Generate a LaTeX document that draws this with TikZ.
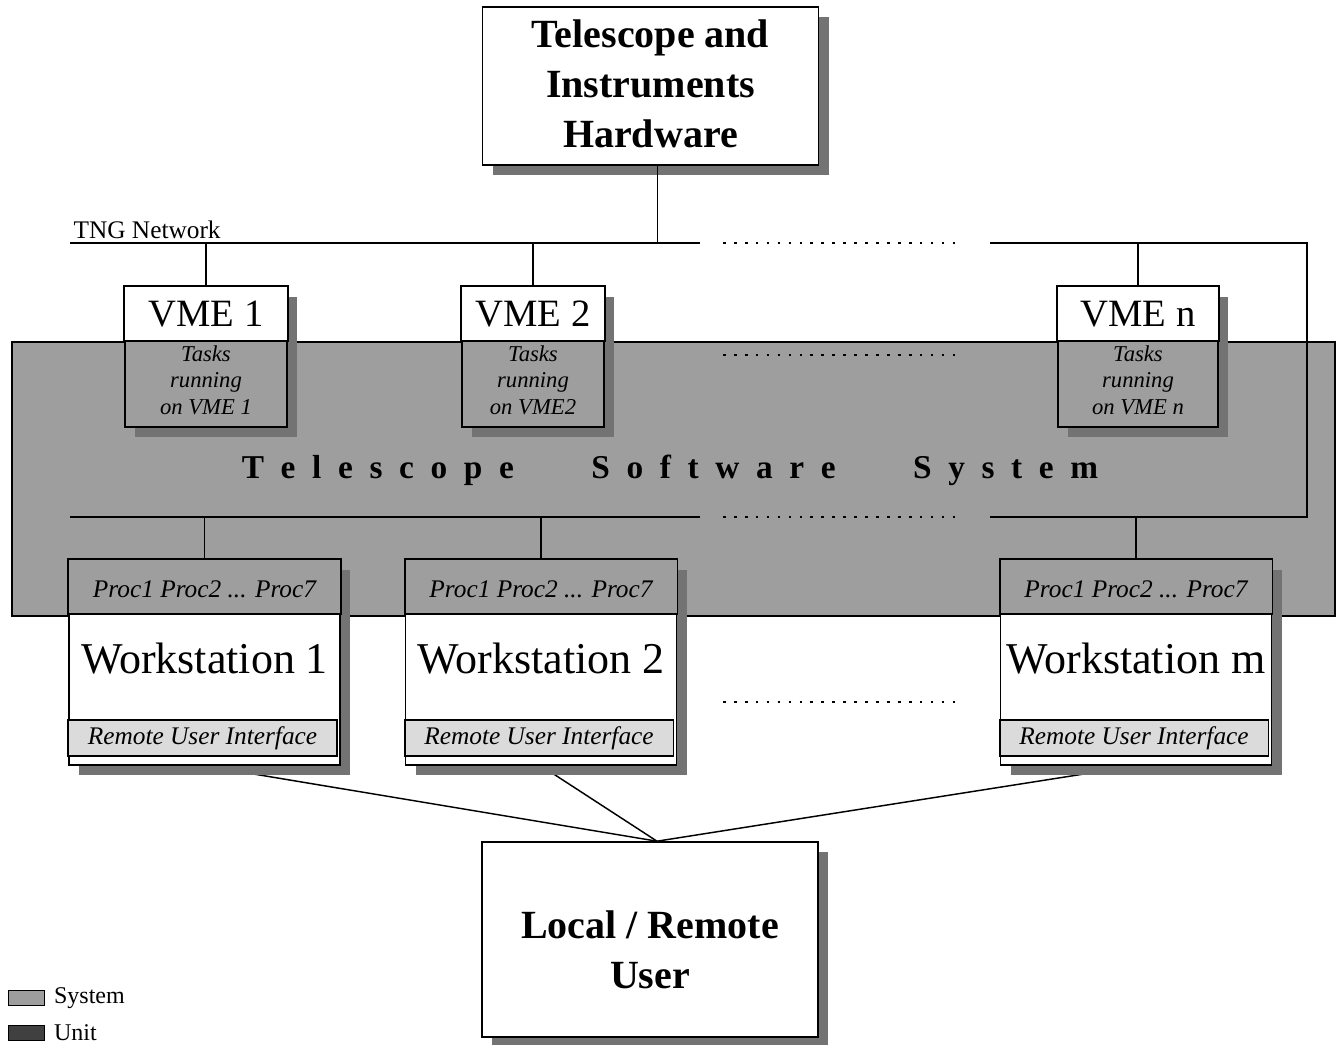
\documentclass[tikz,border=0pt]{standalone}
\usepackage{fontspec}
\setmainfont{Liberation Serif}
\usetikzlibrary{shadows,calc,backgrounds}
\definecolor{bandgray}{gray}{0.62}
\definecolor{shadowgray}{gray}{0.45}
\definecolor{ruigray}{gray}{0.86}
\definecolor{unitgray}{gray}{0.25}
\newcommand\lsgap{\hspace{12.5pt}}
\begin{document}
\begin{tikzpicture}[x=0.75pt,y=-0.75pt,
  box/.style={draw=black, line width=1.2pt, inner sep=0pt},
  shade/.style={general shadow={fill=shadowgray, shadow xshift=7.5pt, shadow yshift=-7.5pt}},
  net/.style={line width=1.2pt},
  link/.style={line width=1.1pt},
  dots/.style={line width=2pt, dash pattern=on 2pt off 6.2pt},
  part/.style={draw=black, line width=1.2pt},
  vmebox/.style={box, shade, fill=bandgray, minimum height={140*0.75pt}},
  wsbox/.style={box, shade, fill=white, minimum width={271*0.75pt}, minimum height={205*0.75pt}},
  bigbox/.style={box, shade, fill=white, minimum width={336*0.75pt}},
  bigtext/.style={align=center, font=\bfseries\fontsize{30}{37.5}\selectfont},
  vmetext/.style={font=\fontsize{29}{30}\selectfont},
  tasktext/.style={align=center, font=\itshape\fontsize{17}{20}\selectfont},
  smallit/.style={font=\itshape\fontsize{19}{20}\selectfont},
  wstext/.style={font=\fontsize{33}{36}\selectfont},
  legtext/.style={font=\fontsize{18}{20}\selectfont, anchor=west}
]
\useasboundingbox (0,0) rectangle (1340,1045);

% system band
\node[draw=black, line width=0.8pt, fill=bandgray, minimum width={1323*0.75pt}, minimum height={274*0.75pt}, inner sep=0pt] (band) at (673.5,479) {};
\node[font=\bfseries\fontsize{25}{30}\selectfont] (tss) at (670,470)
  {T\lsgap e\lsgap l\lsgap e\lsgap s\lsgap c\lsgap o\lsgap p\lsgap e\hspace{58pt}S\lsgap o\lsgap f\lsgap t\lsgap w\lsgap a\lsgap r\lsgap e\hspace{58pt}S\lsgap y\lsgap s\lsgap t\lsgap e\lsgap m};

% networks
\coordinate (netL) at (70,243);
\coordinate (netA) at (700,243);
\coordinate (netB) at (990,243);
\coordinate (netR) at (1307,243);
\coordinate (lanL) at (70,517);
\coordinate (lanA) at (700,517);
\coordinate (lanB) at (990,517);
\coordinate (lanR) at (1307,517);
\coordinate (dotA1) at (723,243);
\coordinate (dotB1) at (955,243);
\coordinate (dotA2) at (723,517);
\coordinate (dotB2) at (955,517);
\coordinate (dotA3) at (723,355);
\coordinate (dotB3) at (955,355);
\coordinate (dotA4) at (723,702);
\coordinate (dotB4) at (955,702);
\draw[net] (netL) -- (netA);
\draw[net] (netB) -- (netR) -- (lanR) -- (lanB);
\draw[net] (lanL) -- (lanA);
\draw[dots] (dotA1) -- (dotB1);
\draw[dots] (dotA2) -- (dotB2);
\draw[dots] (dotA3) -- (dotB3);
\draw[dots] (dotA4) -- (dotB4);
\node[anchor=south west, font=\fontsize{19}{20}\selectfont, inner sep=1pt] (tng) at (72,240) {TNG Network};

% hardware
\node[bigbox, minimum height={158*0.75pt}] (hw) at (650.5,86) {};
\node[bigtext] (hwtext) at (650.5,84) {Telescope and\\Instruments\\Hardware};
\coordinate (hwdrop) at ($(hw.south)+(7,0)$);
\draw[net] (hwdrop) -- (hwdrop |- netL);

% VME units
\foreach \n/\x/\w/\lab/\tsk in {vme1/206/162/VME 1/on VME 1, vme2/533/142/VME 2/on VME2, vmen/1138/160/VME n/on VME n}{
  \node[vmebox, minimum width={\w*0.75pt}] (\n) at (\x,357) {};
  \draw[part, fill=white] (\n.north west) rectangle ($(\n.north east)+(0,55)$);
  \node[vmetext] (\n-name) at ($(\n.north)+(0,28)$) {\lab};
  \node[tasktext] (\n-tasks) at ($(\n.north)+(0,94)$) {Tasks\\running\\\tsk};
  \draw[net] (\n.north) -- (\n.north |- netL);
}

% user
\node[bigbox, minimum height={195*0.75pt}] (user) at (650,939.5) {};
\node[bigtext] (usertext) at (650,950) {Local / Remote\\User};
\coordinate (userin) at ($(user.north)+(7,0)$);

% workstations
\foreach \n/\x/\lab in {ws1/204.5/Workstation 1, ws2/541/Workstation 2, wsm/1136/Workstation m}{
  \node[wsbox] (\n) at (\x,662.5) {};
  \draw[part, fill=bandgray] (\n.north west) rectangle ($(\n.north east)+(0,55)$);
  \draw[part, fill=ruigray] ($(\n.north west)+(0,161)$) rectangle ($(\n.north east)+(-4,197)$);
  \node[smallit] (\n-proc) at ($(\n.north)+(0,30)$) {Proc1 Proc2 ... Proc7};
  \node[wstext] (\n-name) at ($(\n.north)+(0,99)$) {\lab};
  \node[smallit] (\n-rui) at ($(\n.north)+(-2,179)$) {Remote User Interface};
  \draw[net] (\n.north) -- (\n.north |- lanL);
  \begin{pgfonlayer}{background}
    \draw[link] (\n.south) -- (userin);
  \end{pgfonlayer}
}

% legend
\node[fill=bandgray, draw=black, line width=0.6pt, minimum width={36*0.75pt}, minimum height={15*0.75pt}, inner sep=0pt] (legsys) at (26,998) {};
\node[legtext] (legsyst) at ($(legsys.east)+(5,0)$) {System};
\node[fill=unitgray, draw=black, line width=0.6pt, minimum width={36*0.75pt}, minimum height={15*0.75pt}, inner sep=0pt] (legunit) at (26,1033) {};
\node[legtext] (legunitt) at ($(legunit.east)+(5,0)$) {Unit};
\end{tikzpicture}
\end{document}
